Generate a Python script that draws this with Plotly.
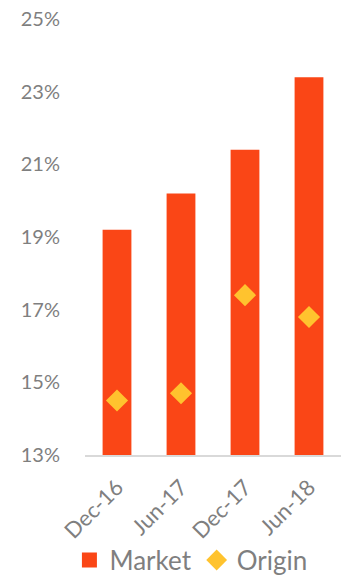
import plotly.graph_objects as go

# Half-year periods on the x axis
periods = ["Dec-16", "Jun-17", "Dec-17", "Jun-18"]
# Share values (%)
market = [19.2, 20.2, 21.4, 23.4]
origin = [14.5, 14.7, 17.4, 16.8]
# Y axis ticks (%)
y_ticks = [13, 15, 17, 19, 21, 23, 25]
y_tick_text = [f"{v}%" for v in y_ticks]

BAR = "#FA4616"
DIAMOND = "#FFC32E"
TEXT = "#7F7F7F"
FONT = "Lato"

fig = go.Figure()
fig.add_trace(go.Bar(
    x=periods, y=market, name="Market", legendgroup="market",
    marker=dict(color=BAR, line=dict(width=0)),
    base=0, showlegend=False,
))
# Legend key for the bars: a solid square swatch
fig.add_trace(go.Scatter(
    x=[None], y=[None], name="Market", legendgroup="market", mode="markers",
    marker=dict(symbol="square", size=15, color=BAR, line=dict(width=0)),
))
fig.add_trace(go.Scatter(
    x=periods, y=origin, name="Origin", mode="markers",
    marker=dict(symbol="diamond", size=17, color=DIAMOND, line=dict(width=0)),
))

fig.update_layout(
    width=344, height=575,
    margin=dict(l=85, r=3, t=19, b=120, autoexpand=False),
    paper_bgcolor="white", plot_bgcolor="white",
    bargap=0.55,
    font=dict(family=FONT, color=TEXT, size=20),
    showlegend=True,
    legend=dict(
        orientation="h", x=0.555, xanchor="center", xref="container",
        y=-0.241, yanchor="middle", yref="paper",
        bgcolor="rgba(0,0,0,0)",
        font=dict(size=26, color=TEXT),
        itemwidth=30, tracegroupgap=0,
        traceorder="normal",
    ),
)
fig.update_yaxes(
    range=[13, 25], tickvals=y_ticks, ticktext=y_tick_text,
    showgrid=False, zeroline=False, showline=False,
    ticks="outside", ticklen=20, tickcolor="rgba(0,0,0,0)",
    tickfont=dict(size=20, color=TEXT, family=FONT),
)
fig.update_xaxes(
    showgrid=False, showline=True, linecolor="#D9D9D9", linewidth=1.5,
    tickangle=-45, tickfont=dict(size=22, color=TEXT, family=FONT),
    ticks="outside", ticklen=9, tickcolor="rgba(0,0,0,0)",
)

fig.write_html("out.html")
